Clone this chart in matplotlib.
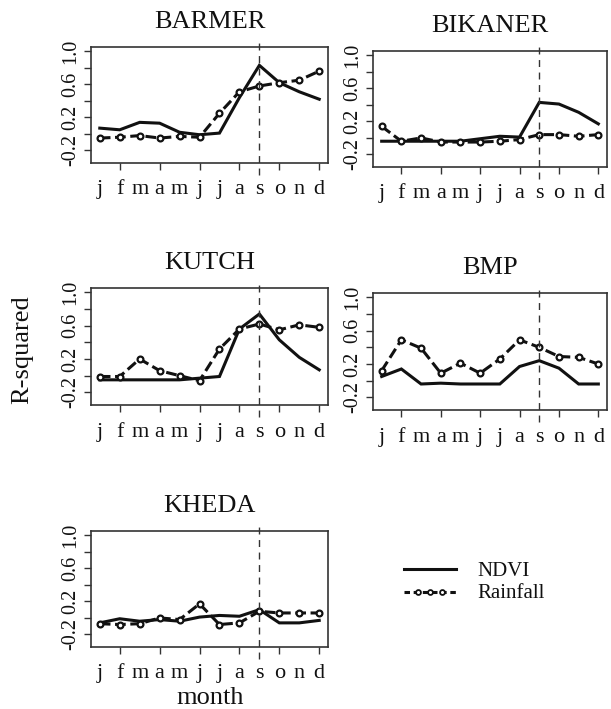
import matplotlib
matplotlib.use("Agg")
import matplotlib.pyplot as plt

plt.rcParams['font.family'] = ['Liberation Serif', 'DejaVu Serif']

months = ['j', 'f', 'm', 'a', 'm', 'j', 'j', 'a', 's', 'o', 'n', 'd']
x = list(range(1, 13))

titles = ['BARMER', 'BIKANER', 'KUTCH', 'BMP', 'KHEDA']

ndvi_barmer = [0.07, 0.05, 0.14, 0.13, 0.02, -0.01, 0.01, 0.44, 0.83, 0.62, 0.51, 0.42]
rain_barmer = [-0.05, -0.04, -0.02, -0.05, -0.03, -0.04, 0.25, 0.51, 0.58, 0.62, 0.65, 0.76]
ndvi_bikaner = [-0.04, -0.04, -0.04, -0.04, -0.04, -0.01, 0.02, 0.01, 0.43, 0.41, 0.31, 0.17]
rain_bikaner = [0.14, -0.04, 0.0, -0.05, -0.05, -0.05, -0.04, -0.02, 0.04, 0.04, 0.02, 0.04]
ndvi_kutch = [-0.05, -0.05, -0.05, -0.05, -0.05, -0.03, -0.01, 0.56, 0.74, 0.43, 0.22, 0.07]
rain_kutch = [-0.01, -0.01, 0.20, 0.06, 0.0, -0.06, 0.32, 0.56, 0.62, 0.55, 0.61, 0.58]
ndvi_bmp = [0.05, 0.14, -0.04, -0.03, -0.04, -0.04, -0.04, 0.17, 0.24, 0.15, -0.04, -0.04]
rain_bmp = [0.12, 0.49, 0.39, 0.09, 0.21, 0.09, 0.26, 0.49, 0.40, 0.29, 0.28, 0.20]
ndvi_kheda = [-0.06, -0.01, -0.04, -0.02, -0.04, 0.01, 0.03, 0.02, 0.10, -0.06, -0.06, -0.03]
rain_kheda = [-0.07, -0.08, -0.07, 0.0, -0.02, 0.17, -0.08, -0.06, 0.08, 0.06, 0.06, 0.06]

ndvi_all = [ndvi_barmer, ndvi_bikaner, ndvi_kutch, ndvi_bmp, ndvi_kheda]
rain_all = [rain_barmer, rain_bikaner, rain_kutch, rain_bmp, rain_kheda]

yticks = [-0.2, 0.0, 0.2, 0.4, 0.6, 0.8, 1.0]
ylabels = ['-0.2', '', '0.2', '', '0.6', '', '1.0']

W, H = 611, 709
fig = plt.figure(figsize=(W / 100, H / 100), dpi=100)

# axes boxes in pixels: left, top, right, bottom
boxes = [(91, 47, 328, 163), (373, 51, 607, 167),
         (91, 288, 328, 405), (373, 293, 607, 410),
         (91, 531, 328, 647)]

ink = '#111111'
for i in range(5):
    l, t, r, b = boxes[i]
    ax = fig.add_axes([l / W, 1 - b / H, (r - l) / W, (b - t) / H])
    ax.plot(x, ndvi_all[i], color=ink, lw=2.2, solid_joinstyle='miter')
    ax.plot(x, rain_all[i], color=ink, lw=2.2, ls=(0, (3.5, 1.5)), marker='o',
            ms=4.2, mfc='white', mec=ink, mew=1.6)
    ax.plot([9, 9], [-0.1, 1.035], transform=ax.get_xaxis_transform(),
            color='#333333', lw=1, ls=(0, (5, 4)), clip_on=False)
    ax.set_xlim(0.56, 12.44)
    ax.set_ylim(-0.352, 1.052)
    ax.set_xticks([2, 4, 6, 8, 10, 12])
    ax.set_xticklabels([])
    for k in range(12):
        ax.text(x[k], -0.27, months[k], transform=ax.get_xaxis_transform(),
                ha='center', va='baseline', fontsize=16, color=ink)
    ax.set_yticks(yticks)
    ax.set_yticklabels(ylabels, rotation=90, va='center', fontsize=14.5, color=ink)
    ax.tick_params(length=5, width=1, color='#333333', pad=2.5)
    for s in ax.spines.values():
        s.set_linewidth(1.2)
        s.set_color('#333333')
    ax.set_title(titles[i], fontsize=19, pad=14, color=ink)

fig.text(22 / W, 1 - 350 / H, 'R-squared', rotation=90, ha='center', va='center',
         fontsize=19, color=ink)
fig.text(210 / W, 1 - 698 / H, 'month', ha='center', va='center', fontsize=19, color=ink)

# legend drawn by hand-placed handles
lax = fig.add_axes([400 / W, 1 - 605 / H, 60 / W, 45 / H])
lax.set_xlim(0, 1)
lax.set_ylim(0, 1)
lax.axis('off')
lax.plot([0.07, 0.93], [0.8, 0.8], color=ink, lw=2.2)
lax.plot([0.07, 0.3, 0.5, 0.7, 0.93], [0.3] * 5, color=ink, lw=2.2, ls=(0, (1.8, 1.2)),
         marker='o', markevery=[1, 2, 3], ms=3.5, mfc='white', mec=ink, mew=1.3)
fig.text(477 / W, 1 - 572 / H, 'NDVI', va='center', fontsize=15, color=ink)
fig.text(477 / W, 1 - 594 / H, 'Rainfall', va='center', fontsize=15, color=ink)

fig.savefig('out.png', dpi=100)
